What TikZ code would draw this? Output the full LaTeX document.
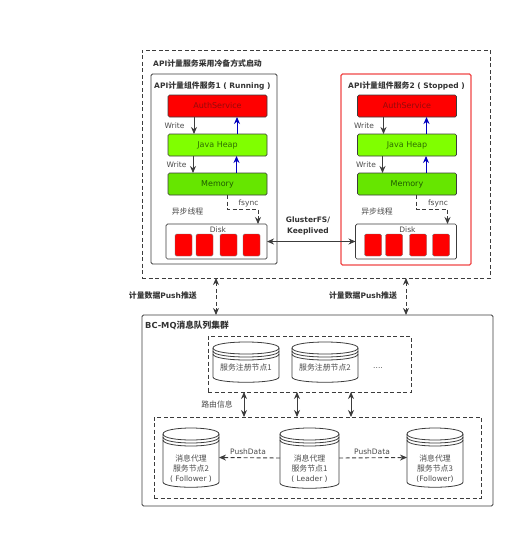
\documentclass[tikz,border=0pt]{standalone}
\usepackage{fontspec}
\usepackage{xcolor}
\setmainfont{DejaVu Sans}
\newfontfamily\zh[Scale=1.05]{Noto Sans CJK SC}
\usetikzlibrary{arrows.meta, positioning, calc}
\definecolor{cLine}{RGB}{60,60,60}
\definecolor{cText}{RGB}{75,75,75}
\definecolor{cAuth}{RGB}{255,0,0}
\definecolor{cAuthText}{RGB}{150,10,10}
\definecolor{cHeap}{RGB}{128,255,0}
\definecolor{cHeapText}{RGB}{45,110,0}
\definecolor{cMem}{RGB}{102,230,0}
\definecolor{cMemText}{RGB}{30,90,0}
\definecolor{cStop}{RGB}{240,70,70}
\definecolor{cUp}{RGB}{0,0,190}
\tikzset{
	panel/.style    ={rectangle, draw=cLine, line width=0.9pt, rounded corners=1.5pt, inner sep=0pt, outer sep=0pt},
	dashbox/.style  ={rectangle, draw=cLine, line width=0.9pt, dash pattern=on 4pt off 2.5pt, inner sep=0pt, outer sep=0pt},
	layer/.style    ={rectangle, draw=cLine, line width=0.7pt, rounded corners=1.5pt, minimum width=99pt, minimum height=22pt, inner sep=0pt, outer sep=0pt, font=\fontsize{8}{10}\selectfont},
	cell/.style     ={rectangle, draw=cLine!70, rounded corners=1.5pt, fill=cAuth, minimum width=17pt, minimum height=22pt, inner sep=0pt},
	lbl/.style      ={text=cText, inner sep=0pt, font=\fontsize{7.5}{10}\selectfont},
	title/.style    ={text=black!80, inner sep=0pt, font=\bfseries\fontsize{7.5}{9}\selectfont},
	sig/.style      ={-{Stealth[length=7pt,width=6pt]}, cLine, line width=0.9pt},
	upsig/.style    ={-{Stealth[length=7pt,width=6pt]}, cUp, line width=0.9pt},
	dashsig/.style  ={-{Stealth[length=7pt,width=6pt]}, cLine, line width=0.9pt, dash pattern=on 4pt off 2.5pt},
	bothsig/.style  ={{Stealth[length=7pt,width=6pt]}-{Stealth[length=7pt,width=6pt]}, cLine, line width=0.9pt},
	bothdash/.style ={{Stealth[length=7pt,width=6pt]}-{Stealth[length=7pt,width=6pt]}, cLine, line width=0.9pt, dash pattern=on 4pt off 2.5pt},
	dbline/.style   ={draw=cLine, line width=0.8pt},
}
% name, centre x, centre y, half width, half height, text offset, text
\newcommand{\dbnode}[7]{%
	\begin{scope}[shift={(#2,#3)}]
		\draw[dbline] (-#4,-#5+6) -- (-#4,#5-5) .. controls (-#4,#5+2) and (#4,#5+2) .. (#4,#5-5) -- (#4,-#5+6) .. controls (#4,-#5-2) and (-#4,-#5-2) .. (-#4,-#5+6) -- cycle;
		\foreach \d in {0,3,6} \draw[dbline] (-#4,-#5+6+\d) .. controls (-#4,-#5+14+\d) and (#4,-#5+14+\d) .. (#4,-#5+6+\d);
		\node[inner sep=0pt, outer sep=0pt, minimum width=2*#4 pt, minimum height=2*#5 pt] (#1) at (0,0) {};
		\node[lbl, align=center] (#1text) at (0,#6) {#7};
	\end{scope}}

\begin{document}
\begin{tikzpicture}[x=1pt, y=-1pt]
	\useasboundingbox (0,0) rectangle (526,538);
	% cold standby part
	\node[dashbox, minimum width=348pt, minimum height=228pt] (standby) at (316,164) {};
	\node[title, anchor=west] (standbytitle) at (153,63) {API{\zh 计量服务采用冷备方式启动}};
	\node[panel, minimum width=126pt, minimum height=190pt] (panel1) at (214,169) {};
	\node[panel, draw=cStop, line width=1.1pt, minimum width=130pt, minimum height=191pt] (panel2) at (406,169.5) {};
	\node[title, anchor=west] (title1) at (154,86) {API{\zh 计量组件服务}1 ( Running )};
	\node[title, anchor=west] (title2) at (348,86) {API{\zh 计量组件服务}2 ( Stopped )};
	\foreach \s/\dx in {1/0, 2/189.5} {
		\node[layer, fill=cAuth, text=cAuthText] (auth\s) at (217.5+\dx,106) {AuthService};
		\node[layer, fill=cHeap, text=cHeapText] (heap\s) at (217.5+\dx,145) {Java Heap};
		\node[layer, fill=cMem, text=cMemText] (mem\s) at (217.5+\dx,184) {Memory};
		\node[layer, fill=white, minimum width=101pt, minimum height=35pt] (disk\s) at (216.5+\dx,241.5) {};
		\node[lbl] (disklbl\s) at (218+\dx,230) {Disk};
		\node[cell] (cella\s) at (183.5+\dx,245) {};
		\node[cell] (cellb\s) at (204.5+\dx,245) {};
		\node[cell] (cellc\s) at (228.5+\dx,245) {};
		\node[cell] (celld\s) at (251.5+\dx,245) {};
		\draw[sig] ([xshift=-23.5pt]auth\s.south) -- ([xshift=-23.5pt]heap\s.north);
		\draw[sig] ([xshift=-24.5pt]heap\s.south) -- ([xshift=-24.5pt]mem\s.north);
		\draw[upsig] ([xshift=19.5pt]heap\s.north) -- ([xshift=19.5pt]auth\s.south);
		\draw[upsig] ([xshift=19pt]mem\s.north) -- ([xshift=19pt]heap\s.south);
		\draw[dashsig] ([xshift=9.5pt]mem\s.south) -- ++(0,14) -| ([xshift=41.5pt]disk\s.north);
		\node[lbl] (writea\s) at (174.5+\dx,126) {Write};
		\node[lbl] (writeb\s) at (176.5+\dx,165) {Write};
		\node[lbl] (sync\s) at (187.5+\dx,212) {\zh 异步线程};
		\node[lbl] (fsync\s) at (248.5+\dx,203) {fsync};
	}
	\draw[bothsig] (disk1.east) -- (disk2.west);
	\node[title, align=center, font=\bfseries\fontsize{7.5}{11}\selectfont] (gluster) at (308,226) {GlusterFS/\\Keeplived};
	% message queue part
	\node[panel, minimum width=351pt, minimum height=191pt] (mq) at (317.5,410.5) {};
	\node[title, anchor=west, font=\bfseries\fontsize{8.3}{10}\selectfont] (mqtitle) at (145,325) {BC-MQ{\zh 消息队列集群}};
	\draw[bothdash] ([xshift=-100pt]standby.south) -- ([xshift=-100pt]standby.south |- mq.north);
	\draw[bothdash] ([xshift=90pt]standby.south) -- ([xshift=90pt]standby.south |- mq.north);
	\node[title, anchor=east] (pushlbl1) at (197,296) {{\zh 计量数据}Push{\zh 推送}};
	\node[title] (pushlbl2) at (363,296) {{\zh 计量数据}Push{\zh 推送}};
	\node[dashbox, minimum width=203pt, minimum height=56pt] (registry) at (309.5,364) {};
	\node[dashbox, minimum width=327pt, minimum height=81pt] (brokers) at (317.5,457.5) {};
	\dbnode{reg1}{246}{362}{33}{20}{6}{\zh 服务注册节点1}
	\dbnode{reg2}{325}{362}{33}{20}{6}{\zh 服务注册节点2}
	\node[lbl] (more) at (378,368) {....};
	\dbnode{broker2}{191}{457.5}{28}{29.5}{11}{{\zh 消息代理}\\{\zh 服务节点2}\\( Follower )}
	\dbnode{broker1}{309.5}{458}{29.5}{30}{11}{{\zh 消息代理}\\{\zh 服务节点1}\\( Leader )}
	\dbnode{broker3}{435}{457.5}{28}{29.5}{11}{{\zh 消息代理}\\{\zh 服务节点3}\\(Follower)}
	\foreach \dx in {-65.5,-12.5,41.5}
		\draw[bothsig] ([xshift=\dx pt]registry.south) -- ([xshift=\dx pt]registry.south |- brokers.north);
	\node[lbl] (routelbl) at (217,404) {\zh 路由信息};
	\draw[dashsig] (broker1.west) -- (broker2.east);
	\draw[dashsig] (broker1.east) -- (broker3.west);
	\node[lbl] (pushdata1) at (248,452) {PushData};
	\node[lbl] (pushdata2) at (372,452) {PushData};
\end{tikzpicture}
\end{document}
